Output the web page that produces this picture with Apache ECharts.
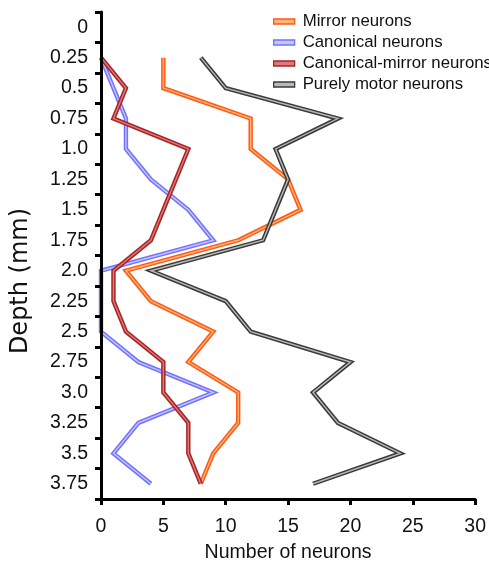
<!DOCTYPE html>
<html>
<head>
<meta charset="utf-8">
<script src="https://cdn.jsdelivr.net/npm/echarts@6/dist/echarts.min.js"></script>
<style>
html,body{margin:0;padding:0;background:#fff;}
#c{width:489px;height:568px;}
</style>
</head>
<body>
<div id="c"></div>
<script>
var depths = ['0','0.25','0.5','0.75','1.0','1.25','1.5','1.75','2.0','2.25','2.5','2.75','3.0','3.25','3.5','3.75'];
var mirror =          [null, 5, 5, 12, 12, 15, 16, 11, 2, 4, 9, 7, 11, 11, 9, 8];
var canonical =       [null, 0, 1, 2, 2, 4, 7, 9, 0, 0, 0, 3, 9, 3, 1, 4];
var canonicalMirror = [null, 0, 2, 1, 7, 6, 5, 4, 1, 1, 2, 5, 5, 7, 7, 8];
var purelyMotor =     [null, 8, 10, 19, 14, 15, 14, 13, 4, 10, 12, 20, 17, 19, 24, 17];
var xTicks = [0, 5, 10, 15, 20, 25, 30];

var SANS = '"Liberation Sans", Arial, sans-serif';

var groups = [
  {name:'Mirror neurons', data:mirror, outer:'#ff5a14', inner:'#ffb27a'},
  {name:'Canonical neurons', data:canonical, outer:'#7272ff', inner:'#c4c4ff'},
  {name:'Canonical-mirror neurons', data:canonicalMirror, outer:'#a82424', inner:'#dc7a7a'},
  {name:'Purely motor neurons', data:purelyMotor, outer:'#3a3a3a', inner:'#b8b8b8'}
];

var series = [];
groups.forEach(function(g, i){
  series.push({
    name: g.name + ' ', type:'line', data:g.data, symbol:'none', silent:true,
    lineStyle:{color:g.outer, width:4.4, join:'miter'}, z: 2 + i*2, animation:false
  });
  series.push({
    name: g.name, type:'line', data:g.data, symbol:'none', silent:true,
    itemStyle:{color:g.inner, borderColor:g.outer, borderWidth:1.2},
    lineStyle:{color:g.inner, width:1.4, join:'miter'}, z: 3 + i*2, animation:false
  });
});

var chart = echarts.init(document.getElementById('c'), null, {renderer:'canvas'});
chart.setOption({
  animation:false,
  backgroundColor:'#fff',
  textStyle:{fontFamily:SANS},
  grid:{left:101, right:12, top:12, bottom:68, containLabel:false},
  legend:{
    orient:'vertical', left:268, top:6, itemGap:0, itemWidth:21, itemHeight:5,
    textStyle:{fontSize:16.8, lineHeight:21, color:'#111', fontFamily:SANS, padding:[0,0,0,3]},
    data: groups.map(function(g){ return {name:g.name, icon:'rect',
      itemStyle:{color:g.inner, borderColor:g.outer, borderWidth:1.3}}; })
  },
  graphic:[{
    type:'text', x:21, y:281, rotation:Math.PI/2,
    style:{text:'Depth (mm)', fill:'#111', font:'24px "DejaVu Sans", sans-serif',
      align:'center', verticalAlign:'middle'}
  }],
  xAxis:{
    type:'value', min:0, max:30, interval:5,
    name:'Number of neurons', nameLocation:'middle', nameGap:44,
    nameTextStyle:{fontSize:19.5, color:'#111', fontFamily:SANS},
    axisLine:{show:true, lineStyle:{color:'#000', width:3}},
    axisTick:{show:true, length:6, lineStyle:{color:'#000', width:3}},
    axisLabel:{fontSize:19.5, color:'#111', margin:18, fontFamily:SANS,
      formatter:function(v){ return xTicks.indexOf(v) >= 0 ? String(v) : ''; }},
    splitLine:{show:false}, z:10
  },
  yAxis:{
    type:'category', data:depths, inverse:true, boundaryGap:true,
    axisLine:{show:true, lineStyle:{color:'#000', width:3}},
    axisTick:{show:true, length:6, alignWithLabel:false, lineStyle:{color:'#000', width:3}},
    axisLabel:{fontSize:19.5, color:'#111', margin:13, align:'right', fontFamily:SANS},
    splitLine:{show:false}, z:10
  },
  series: series
});
</script>
</body>
</html>
